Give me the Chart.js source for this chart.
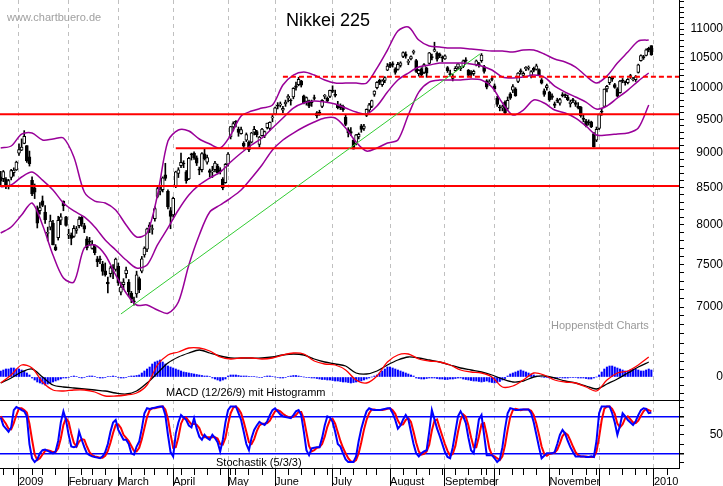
<!DOCTYPE html>
<html>
<head>
<meta charset="utf-8">
<title>Nikkei 225</title>
<script src="https://cdn.jsdelivr.net/npm/chart.js@4.4.0/dist/chart.umd.min.js"></script>
<style>
  body { margin: 0; background: #fff; }
  #box { position: relative; width: 723px; height: 486px; }
  .note { position: absolute; font-family: "Liberation Sans", Arial, sans-serif; line-height: 1; white-space: nowrap; }
</style>
</head>
<body>
<div id="box">
  <canvas id="chart" width="723" height="486"></canvas>
  <div class="note" style="left:7px;top:12px;font-size:11px;color:#a0a0a0">www.chartbuero.de</div>
  <div class="note" style="left:286px;top:11px;font-size:18px;color:#000">Nikkei 225</div>
  <div class="note" style="left:551px;top:320px;font-size:11px;color:#999">Hoppenstedt Charts</div>
  <div class="note" style="left:166px;top:387px;font-size:11px;color:#000">MACD (12/26/9) mit Histogramm</div>
  <div class="note" style="left:216px;top:457px;font-size:11px;color:#000">Stochastik (5/3/3)</div>
</div>
<script>
// trading days are numbered from 0 (19 Dec 2008) to 249 (30 Dec 2009)
const monthStarts = [7, 26, 45, 66, 87, 105, 127, 149, 170, 189, 210, 229, 250];
const monthLabels = ['2009', 'February', 'March', 'April', 'May', 'June', 'July', 'August', 'September', '', 'November', '', '2010'];
const weekStarts = [1, 5, 12, 16, 21, 31, 35, 40, 50, 55, 59, 64, 69, 74, 79, 84, 88, 90, 95, 100, 110, 115, 120, 125, 130, 135, 140, 144, 154, 159, 164, 169, 174, 179, 184, 186, 191, 196, 200, 205, 214, 219, 224, 228, 233, 238, 243, 247, 255];
const priceLabels = [7000, 7500, 8000, 8500, 9000, 9500, 10000, 10500, 11000];
const macdTicks = [-160, -80, 0, 80, 160, 240];
const stochTicks = [5, 20, 35, 50, 65, 80, 95];

const open = [
  8650, 8626, 8620, 8521, 8642, 8708, 8749, 8991, 9035, 9132,
  9103, 8935, 8600, 8493, 8198, 8187, 8318, 8167, 7890, 7970,
  8022, 7720, 7834, 8063, 8312, 8107, 7867, 7865, 7850, 7930,
  7990, 8100, 7990, 7820, 7790, 7700, 7720, 7570, 7560, 7505,
  7425, 7290, 7390, 7470, 7440, 7480, 7170, 7260, 7390, 7290,
  7160, 7070, 7150, 7330, 7420, 7620, 7690, 8000, 7940, 8080,
  8380, 8450, 8470, 8680, 8450, 8190, 8130, 8520, 8700, 8810,
  8840, 8720, 8620, 8970, 8990, 8920, 8760, 8750, 8980, 8860,
  8740, 8720, 8750, 8800, 8750, 8620, 8570, 8830, 9230, 9380,
  9460, 9350, 9280, 9140, 9180, 9150, 9150, 9300, 9310, 9120,
  9250, 9250, 9370, 9360, 9520, 9580, 9720, 9720, 9640, 9740,
  9830, 9790, 9850, 10030, 10050, 10110, 9870, 9780, 9790, 9760,
  9840, 9600, 9600, 9700, 9860, 9830, 9860, 9960, 9890, 9720,
  9720, 9700, 9530, 9340, 9310, 9180, 9130, 9230, 9400, 9360,
  9560, 9640, 9700, 9890, 10000, 10120, 10050, 10120, 10290, 10390,
  10400, 10310, 10300, 10370, 10520, 10560, 10420, 10480, 10590, 10450,
  10230, 10310, 10250, 10320, 10400, 10520, 10610, 10580, 10560, 10500,
  10480, 10330, 10230, 10150, 10280, 10340, 10320, 10350, 10460, 10290,
  10250, 10230, 10380, 10400, 10450, 10350, 10110, 10080, 10150, 10030,
  9830, 9690, 9680, 9770, 9670, 9900, 9960, 9980, 10100, 10280,
  10200, 10310, 10320, 10200, 10320, 10300, 10300, 10130, 9950, 10000,
  9930, 9870, 9740, 9800, 9750, 9890, 9880, 9850, 9740, 9810,
  9760, 9700, 9690, 9510, 9470, 9460, 9460, 9280, 9180, 9360,
  9620, 9700, 9980, 10080, 10170, 10050, 9980, 9920, 10120, 10090,
  10080, 10200, 10130, 10130, 10250, 10450, 10520, 10540, 10660, 10707
];
const high = [
  8729, 8740, 8640, 8615, 8758, 8778, 8874, 9127, 9201, 9325,
  9103, 9020, 8650, 8550, 8250, 8294, 8385, 8255, 7971, 8129,
  8061, 7748, 8113, 8148, 8319, 8113, 7945, 7896, 7990, 7980,
  8106, 8110, 8020, 7850, 7840, 7800, 7745, 7600, 7605, 7540,
  7520, 7350, 7480, 7500, 7580, 7520, 7290, 7330, 7470, 7320,
  7180, 7115, 7420, 7350, 7600, 7720, 7960, 8030, 8000, 8240,
  8520, 8520, 8650, 8843, 8470, 8230, 8370, 8730, 8780, 8990,
  8880, 8740, 8930, 8990, 9010, 8950, 8790, 9000, 9050, 8960,
  8760, 8800, 8870, 8830, 8780, 8640, 8840, 9000, 9390, 9460,
  9480, 9380, 9380, 9160, 9290, 9170, 9300, 9390, 9330, 9240,
  9360, 9320, 9440, 9460, 9560, 9690, 9760, 9770, 9700, 9800,
  9890, 9820, 10000, 10090, 10170, 10120, 9880, 9850, 9800, 9800,
  9880, 9620, 9640, 9810, 9890, 9850, 9960, 10030, 9960, 9780,
  9740, 9720, 9560, 9370, 9370, 9190, 9270, 9290, 9420, 9420,
  9660, 9750, 9800, 9950, 10100, 10140, 10130, 10180, 10400, 10420,
  10430, 10330, 10420, 10430, 10600, 10600, 10470, 10530, 10630, 10470,
  10300, 10330, 10400, 10340, 10590, 10560, 10767, 10600, 10580, 10530,
  10550, 10350, 10290, 10220, 10350, 10400, 10350, 10460, 10500, 10300,
  10280, 10290, 10460, 10420, 10570, 10370, 10130, 10130, 10190, 10060,
  9860, 9720, 9720, 9790, 9850, 9920, 10050, 10000, 10250, 10310,
  10260, 10350, 10360, 10280, 10340, 10390, 10310, 10150, 9980, 10060,
  9940, 9900, 9770, 9830, 9830, 9920, 9900, 9880, 9800, 9830,
  9790, 9760, 9700, 9560, 9500, 9490, 9470, 9300, 9380, 9580,
  9660, 9980, 10040, 10180, 10180, 10070, 10000, 10120, 10150, 10110,
  10150, 10220, 10170, 10200, 10390, 10550, 10540, 10650, 10680, 10707
];
const low = [
  8513, 8582, 8484, 8481, 8606, 8660, 8740, 8955, 9026, 9128,
  8856, 8803, 8390, 8350, 7960, 8142, 8240, 8020, 7795, 7935,
  7745, 7671, 7805, 8002, 8186, 7982, 7822, 7745, 7840, 7890,
  7960, 7980, 7900, 7680, 7740, 7690, 7620, 7475, 7510, 7370,
  7360, 7162, 7350, 7330, 7420, 7250, 7140, 7200, 7340, 7120,
  7050, 7021, 7110, 7165, 7400, 7590, 7660, 7900, 7880, 8050,
  8360, 8400, 8440, 8600, 8210, 7950, 8100, 8500, 8640, 8780,
  8780, 8560, 8610, 8890, 8900, 8810, 8680, 8720, 8890, 8830,
  8650, 8640, 8720, 8690, 8690, 8470, 8560, 8800, 9200, 9320,
  9380, 9240, 9270, 9050, 9160, 9010, 9140, 9260, 9230, 9080,
  9240, 9220, 9350, 9330, 9460, 9570, 9660, 9690, 9600, 9700,
  9770, 9720, 9820, 9960, 10030, 10010, 9740, 9720, 9680, 9700,
  9800, 9520, 9560, 9680, 9820, 9770, 9840, 9920, 9850, 9660,
  9650, 9620, 9400, 9230, 9250, 9050, 9110, 9200, 9300, 9330,
  9540, 9610, 9680, 9860, 9980, 10050, 10020, 10080, 10280, 10330,
  10340, 10220, 10290, 10340, 10500, 10490, 10380, 10460, 10560, 10250,
  10190, 10190, 10230, 10170, 10390, 10460, 10600, 10440, 10500, 10430,
  10470, 10250, 10190, 10110, 10270, 10300, 10280, 10330, 10420, 10190,
  10170, 10200, 10360, 10340, 10420, 10240, 9980, 10040, 10110, 9940,
  9700, 9630, 9630, 9580, 9640, 9810, 9920, 9860, 10080, 10220,
  10180, 10280, 10290, 10160, 10260, 10290, 10200, 10060, 9860, 9960,
  9780, 9810, 9680, 9760, 9720, 9850, 9840, 9790, 9690, 9760,
  9700, 9660, 9530, 9460, 9380, 9410, 9370, 9076, 9160, 9340,
  9560, 9690, 9930, 10050, 10100, 9990, 9850, 9910, 10080, 10040,
  10060, 10150, 10110, 10100, 10240, 10440, 10470, 10530, 10600, 10540
];
const close = [
  8588, 8723, 8517, 8599, 8739, 8747, 8859, 9043, 9080, 9239,
  8876, 8836, 8413, 8438, 8023, 8230, 8256, 8065, 7901, 8051,
  7745, 7682, 8061, 8106, 8251, 7994, 7873, 7825, 7957, 7950,
  8077, 8009, 7946, 7705, 7779, 7750, 7646, 7534, 7558, 7416,
  7376, 7269, 7461, 7458, 7568, 7280, 7230, 7291, 7433, 7173,
  7086, 7055, 7376, 7198, 7569, 7704, 7949, 7972, 7946, 8216,
  8488, 8480, 8636, 8627, 8236, 8110, 8352, 8720, 8750, 8858,
  8833, 8595, 8916, 8964, 8924, 8843, 8743, 8982, 8908, 8925,
  8711, 8727, 8847, 8708, 8726, 8494, 8828, 8977, 9386, 9433,
  9452, 9299, 9340, 9094, 9265, 9039, 9290, 9345, 9264, 9226,
  9347, 9311, 9439, 9451, 9523, 9678, 9704, 9742, 9669, 9768,
  9866, 9786, 9991, 10003, 10136, 10040, 9753, 9841, 9704, 9786,
  9826, 9550, 9590, 9796, 9877, 9783, 9958, 9940, 9876, 9681,
  9680, 9648, 9421, 9291, 9287, 9050, 9262, 9269, 9344, 9395,
  9652, 9723, 9793, 9945, 10089, 10087, 10113, 10165, 10357, 10352,
  10375, 10253, 10388, 10412, 10585, 10524, 10435, 10518, 10597, 10269,
  10285, 10204, 10383, 10238, 10581, 10497, 10640, 10474, 10534, 10493,
  10530, 10280, 10215, 10187, 10321, 10393, 10312, 10444, 10444, 10202,
  10218, 10271, 10444, 10371, 10544, 10266, 10010, 10100, 10133, 9979,
  9732, 9674, 9692, 9600, 9798, 9832, 10016, 9871, 10239, 10258,
  10237, 10337, 10333, 10267, 10283, 10363, 10212, 10075, 9891, 10035,
  9803, 9844, 9717, 9789, 9809, 9871, 9872, 9804, 9770, 9791,
  9730, 9677, 9549, 9498, 9402, 9442, 9383, 9082, 9346, 9572,
  9609, 9978, 10023, 10168, 10140, 10005, 9863, 10108, 10106, 10083,
  10138, 10177, 10142, 10183, 10378, 10537, 10495, 10634, 10638, 10546
];

// Bollinger bands and MACD are read every fourth trading day
const sampleDays = [0, 4, 8, 12, 16, 20, 24, 28, 32, 36, 40, 44, 48, 52, 56, 60, 64, 68, 72, 76, 80,
  84, 88, 92, 96, 100, 104, 108, 112, 116, 120, 124, 128, 132, 136, 140, 144, 148, 152, 156, 160,
  164, 168, 172, 176, 180, 184, 188, 192, 196, 200, 204, 208, 212, 216, 220, 224, 228, 232, 236, 240, 244, 248];
const bandUpper = [9066, 9095, 9274, 9289, 9184, 9199, 9214, 8933, 8439, 8316, 8290, 8196, 7999, 7844, 7895, 8398,
  9169, 9334, 9319, 9199, 9125, 9066, 9259, 9549, 9627, 9674, 9721, 10043, 10207, 10257, 10207, 10125,
  10075, 10075, 10075, 10075, 10324, 10631, 10964, 11036, 10805, 10700, 10683, 10665, 10665, 10648, 10631, 10614,
  10614, 10596, 10631, 10631, 10562, 10476, 10425, 10341, 10191, 10075, 10191, 10408, 10596, 10787, 10805];
const bandMiddle = [8510, 8537, 8648, 8718, 8605, 8467, 8290, 8183, 8104, 7973, 7806, 7680, 7556, 7459, 7495, 7743,
  7960, 8196, 8398, 8537, 8634, 8718, 8861, 8992, 9110, 9214, 9365, 9518, 9674, 9753, 9785, 9769,
  9737, 9674, 9611, 9580, 9706, 9929, 10125, 10241, 10341, 10375, 10408, 10408, 10408, 10392, 10358, 10291,
  10174, 10158, 10174, 10207, 10174, 10026, 9929, 9849, 9769, 9658, 9706, 9833, 9961, 10108, 10241];
const bandLower = [7895, 7973, 8130, 8290, 7999, 7618, 7338, 7291, 7706, 7743, 7618, 7374, 7161, 7023, 7023, 6966,
  6929, 7057, 7495, 7870, 8169, 8263, 8357, 8467, 8634, 8818, 9036, 9184, 9289, 9380, 9457, 9518,
  9518, 9365, 9154, 9021, 9066, 9139, 9184, 9565, 9929, 10092, 10125, 10125, 10125, 10141, 10125, 10010,
  9753, 9565, 9643, 9801, 9753, 9643, 9596, 9518, 9395, 9259, 9259, 9274, 9289, 9365, 9721];
const macdLine = [-60, 20, 120, 90, -50, -130, -140, -130, -130, -150, -190, -190, -180, -160, -80, 120,
  220, 250, 290, 290, 260, 200, 180, 190, 190, 180, 190, 220, 240, 230, 160, 130,
  120, 70, -30, -60, 10, 150, 220, 230, 180, 160, 150, 120, 70, 50, 40, 0,
  -100, -90, -30, 40, 20, -30, -50, -60, -100, -140, -30, 40, 60, 120, 200];
const signalLine = [-60, -10, 50, 80, 0, -80, -100, -110, -120, -130, -140, -160, -170, -140, -60, 40,
  140, 200, 240, 270, 240, 210, 190, 190, 190, 190, 200, 220, 230, 220, 180, 150,
  130, 110, 40, 30, 60, 120, 170, 200, 190, 170, 150, 120, 90, 70, 50, 20,
  -20, -50, -40, 0, 10, -10, -40, -60, -90, -120, -70, -20, 40, 100, 150];

const histogram = [
  60, 70, 80, 80, 90, 90, 80, 80, 70, 60, 40, 20,
  -10, -30, -50, -60, -70, -80, -70, -60, -50, -40, -30,
  -20, -10, -10, -5, 5, 10, 5, -5, -10, -5, 5, 10, 10, 5, -5, -10, -10, -5, 5, 5, 10, 5, -5, -10, -10, -5, 5, 10, 10, 15,
  20, 40, 60, 80, 100, 130, 150, 160, 170, 150, 130, 110,
  100, 90, 80, 70, 60, 50, 45, 40, 35, 30, 25, 20, 15, 10, 10, 5,
  -10, -20, -30, -40, -30, -20,
  10, 20, 20, 20, 15, 10, 10, 10, 5,
  5, 5, 0, -5, -5, 5, 10, 10, 5, 0, -5, -10, -10, -5, 5, 10, 15, 15, 10, 5, 0, -5, -5, -10,
  -10, -15, -20, -25, -25, -30, -30, -35, -40, -40, -45, -50, -50, -55, -60, -55, -50, -45, -40, -30, -20, -10, 0, 10,
  20, 40, 60, 80, 100, 100, 90, 80, 70, 60, 50, 40, 30, 20, 10,
  -10, -15, -20, -20, -15, -10, -10, -10, -15, -20, -20, -25, -25, -20, -20, -15, -10, -10,
  -20, -25, -30, -35, -40, -40, -45, -50, -45, -40, -50, -55, -60, -55, -45, -30, -15,
  10, 30, 40, 50, 60, 70, 60, 50, 40, 30, 20, 10, 5, 0, -5,
  -5, -10, -10, -10, -5, -5, -10, -10, -10, -5, -5, -5, -10, -10, -10, -15, -20, -20,
  -10, 0, 20, 50,
  80, 100, 110, 110, 100, 90, 80, 70, 60, 60, 70, 80, 80, 70, 60, 60, 70, 80, 70
];
const stochK = [
  78, 65, 60, 55, 62, 90, 95, 93, 90, 88, 80, 35, 12, 6, 10, 20, 25, 26, 24, 22,
  20, 23, 40, 70, 88, 74, 50, 31, 30, 31, 55, 42, 30, 20, 17, 15, 14, 13, 12, 15,
  22, 35, 55, 70, 74, 58, 50, 42, 42, 35, 20, 18, 31, 39, 60, 85, 93, 92, 93, 94,
  95, 96, 96, 82, 50, 22, 15, 52, 70, 82, 78, 74, 65, 62, 77, 60, 47, 42, 50, 45,
  42, 50, 45, 38, 23, 42, 70, 90, 96, 96, 96, 85, 74, 55, 35, 25, 45, 58, 65, 71,
  68, 66, 72, 82, 90, 93, 88, 83, 80, 79, 78, 77, 82, 88, 90, 82, 55, 25, 17, 28,
  29, 30, 30, 45, 65, 80, 78, 71, 55, 35, 31, 20, 10, 6, 6, 6, 15, 40, 60, 75,
  88, 93, 91, 90, 90, 90, 91, 92, 93, 93, 85, 74, 60, 65, 75, 82, 75, 55, 35, 20,
  15, 20, 23, 25, 55, 90, 75, 60, 48, 35, 22, 14, 12, 30, 55, 80, 88, 80, 69, 45,
  25, 20, 45, 75, 82, 50, 17, 17, 17, 12, 6, 10, 30, 60, 85, 93, 92, 90, 90, 91,
  91, 91, 91, 85, 70, 50, 30, 12, 16, 20, 20, 20, 22, 35, 50, 58, 52, 40, 30, 22,
  15, 15, 15, 15, 14, 14, 15, 14, 40, 85, 96, 96, 96, 96, 85, 70, 50, 65, 85, 80,
  74, 70, 66, 72, 82, 90, 93, 92, 85, 86
];
const stochD = [
  80, 74, 68, 60, 59, 69, 82, 93, 93, 90, 86, 68, 42, 18, 9, 12, 18, 24, 25, 24,
  22, 22, 28, 44, 66, 77, 71, 52, 37, 31, 39, 43, 42, 31, 22, 17, 15, 14, 13, 13,
  16, 24, 37, 53, 66, 67, 61, 50, 45, 40, 32, 24, 23, 29, 43, 61, 79, 90, 93, 93,
  94, 95, 96, 91, 76, 51, 29, 30, 46, 68, 77, 78, 72, 67, 68, 66, 61, 50, 46, 46,
  46, 46, 46, 44, 35, 34, 45, 67, 85, 94, 96, 92, 85, 71, 55, 38, 35, 43, 56, 65,
  68, 68, 69, 73, 81, 88, 90, 88, 84, 81, 79, 78, 79, 82, 87, 87, 76, 54, 32, 23,
  25, 29, 30, 35, 47, 63, 74, 76, 68, 54, 40, 29, 20, 12, 7, 6, 9, 20, 38, 58,
  74, 85, 91, 91, 90, 90, 90, 91, 92, 93, 90, 84, 73, 66, 67, 74, 77, 71, 55, 37,
  23, 18, 19, 23, 34, 57, 73, 75, 61, 48, 35, 24, 16, 19, 32, 55, 74, 83, 79, 65,
  46, 30, 30, 47, 67, 69, 50, 28, 17, 15, 12, 9, 15, 33, 58, 79, 90, 92, 91, 90,
  91, 91, 91, 89, 82, 68, 50, 31, 19, 16, 19, 20, 21, 26, 36, 48, 53, 50, 41, 31,
  22, 17, 15, 15, 15, 14, 14, 14, 23, 46, 74, 92, 96, 96, 92, 84, 68, 62, 67, 77,
  80, 75, 70, 69, 73, 81, 88, 92, 90, 88
];

// drawn levels (price) and the day they start on
const redLevels = [9575, 9060, 8522];
const redLevelFrom = [-0.27, 67, -0.27];
const dashedLevel = 10180;
const dashedFrom = 108;
const trendDays = [46, 183.4];
const trendValues = [6921, 10563];

const xMin = -0.27, xMax = 259.58;
const stochMin = -3.8, stochMax = 106.4;
Chart.defaults.font.family = '"Liberation Sans", Arial, sans-serif';
const tickFont = { size: 12 };

function points(xs, ys) { return xs.map((x, i) => ({ x: x, y: ys[i] })); }
function level(from, value) { return [{ x: from, y: value }, { x: xMax, y: value }]; }
const line = { type: 'line', pointRadius: 0, fill: false, tension: 0, xAxisID: 'x' };

const datasets = [
  { ...line, data: points(trendDays, trendValues), yAxisID: 'y', borderColor: '#33cc33', borderWidth: 1, order: 1 },
  ...redLevels.map((v, i) => ({ ...line, data: level(redLevelFrom[i], v), yAxisID: 'y', borderColor: '#ff0000', borderWidth: 2, order: 1 })),
  { ...line, data: level(dashedFrom, dashedLevel), yAxisID: 'y', borderColor: '#ff0000', borderWidth: 2, borderDash: [5, 3], order: 1 },
  { ...line, data: points(sampleDays, bandUpper), yAxisID: 'y', borderColor: '#990099', borderWidth: 1.5, tension: 0.3, order: 2 },
  { ...line, data: points(sampleDays, bandMiddle), yAxisID: 'y', borderColor: '#990099', borderWidth: 1.5, tension: 0.3, order: 2 },
  { ...line, data: points(sampleDays, bandLower), yAxisID: 'y', borderColor: '#990099', borderWidth: 1.5, tension: 0.3, order: 2 },
  { type: 'bar', data: open.map((o, i) => ({ x: i, y: [o, close[i]] })), xAxisID: 'x', yAxisID: 'y',
    grouped: false, barThickness: 3, minBarLength: 1, borderWidth: 1, borderColor: '#000', borderSkipped: false,
    backgroundColor: c => close[c.dataIndex] > open[c.dataIndex] ? '#fff' : '#000', order: 3 },
  { type: 'bar', data: low.map((l, i) => ({ x: i, y: [l, high[i]] })), xAxisID: 'x', yAxisID: 'y',
    grouped: false, barThickness: 1, borderWidth: 0, backgroundColor: '#000', order: 4 },
  { type: 'bar', data: histogram.map((v, i) => ({ x: i, y: v })), xAxisID: 'x', yAxisID: 'macd',
    grouped: false, barThickness: 1.4, borderWidth: 0, backgroundColor: '#0000ff', order: 3 },
  { ...line, data: points(sampleDays, signalLine), yAxisID: 'macd', borderColor: '#000', borderWidth: 1.3, tension: 0.3, order: 2 },
  { ...line, data: points(sampleDays, macdLine), yAxisID: 'macd', borderColor: '#ff0000', borderWidth: 1.3, tension: 0.3, order: 1 },
  { ...line, data: stochD.map((v, i) => ({ x: i, y: v })), yAxisID: 'stoch', borderColor: '#ff0000', borderWidth: 2, order: 2 },
  { ...line, data: stochK.map((v, i) => ({ x: i, y: v })), yAxisID: 'stoch', borderColor: '#0000ff', borderWidth: 2, order: 1 }
];

function fixWidth(s) { s.width = 44; s.paddingTop = 0; s.paddingBottom = 0; }
const isLevel = c => c.tick && (c.tick.value === 80 || c.tick.value === 20);

new Chart(document.getElementById('chart'), {
  type: 'line',
  data: { datasets: datasets },
  options: {
    responsive: false,
    animation: false,
    devicePixelRatio: 1,
    events: [],
    layout: { padding: 0 },
    plugins: { legend: { display: false }, tooltip: { enabled: false }, title: { display: false } },
    scales: {
      xw: {
        type: 'linear', position: 'bottom', weight: 0, min: xMin, max: xMax, bounds: 'data', offset: false,
        afterBuildTicks: s => { s.ticks = weekStarts.map(v => ({ value: v })); },
        ticks: { display: false },
        grid: { drawOnChartArea: false, tickLength: 7, tickColor: '#000', offset: false },
        border: { display: false },
        afterFit: s => { s.height = 0; s.paddingLeft = 0; s.paddingRight = 0; }
      },
      x: {
        type: 'linear', position: 'bottom', weight: 1, min: xMin, max: xMax, bounds: 'data', offset: false,
        afterBuildTicks: s => { s.ticks = monthStarts.map(v => ({ value: v })); },
        ticks: { autoSkip: false, maxRotation: 0, align: 'start', padding: -11, color: '#000', font: { size: 11 },
                 callback: (v, i) => monthLabels[i] },
        grid: { color: '#c0c0c0', tickColor: '#000', tickLength: 18, offset: false },
        border: { color: '#000', width: 1, dash: [4, 4] },
        afterFit: s => { s.height = 18; s.paddingLeft = 0; s.paddingRight = 0; }
      },
      y: {
        type: 'logarithmic', position: 'right', stack: 'right', stackWeight: 346, min: 6570, max: 11532, bounds: 'data',
        afterBuildTicks: s => { const t = []; for (let v = 6600; v <= 11500; v += 100) t.push({ value: v }); s.ticks = t; },
        ticks: { autoSkip: false, padding: 2, crossAlign: 'far', color: '#000', font: tickFont,
                 callback: v => priceLabels.includes(v) ? String(v) : '' },
        grid: { drawOnChartArea: false, tickLength: 5, tickColor: '#000' },
        border: { color: '#000', width: 1 },
        afterFit: fixWidth
      },
      macd: {
        type: 'linear', position: 'right', stack: 'right', stackWeight: 54, min: -230, max: 310, bounds: 'data',
        afterBuildTicks: s => { s.ticks = macdTicks.map(v => ({ value: v })); },
        ticks: { autoSkip: false, padding: 28, crossAlign: 'far', color: '#000', font: tickFont,
                 callback: v => v === 0 ? '0' : '' },
        grid: { drawOnChartArea: false, tickLength: 5, tickColor: '#000' },
        border: { color: '#000', width: 1 },
        afterFit: fixWidth
      },
      stoch: {
        type: 'linear', position: 'right', stack: 'right', stackWeight: 68, min: stochMin, max: stochMax, bounds: 'data',
        afterBuildTicks: s => { s.ticks = stochTicks.concat([stochMax]).map(v => ({ value: v })); },
        ticks: { autoSkip: false, padding: 22, crossAlign: 'far', color: '#000', font: tickFont,
                 callback: v => v === 50 ? '50' : '' },
        grid: {
          drawOnChartArea: true, tickLength: 5, tickColor: '#000',
          color: c => isLevel(c) ? '#0000ff' : (c.tick && c.tick.value === stochMax ? '#000' : 'rgba(0,0,0,0)'),
          lineWidth: c => isLevel(c) ? 1.5 : 1
        },
        border: { color: '#000', width: 1 },
        afterFit: fixWidth
      }
    }
  }
});
</script>
</body>
</html>
